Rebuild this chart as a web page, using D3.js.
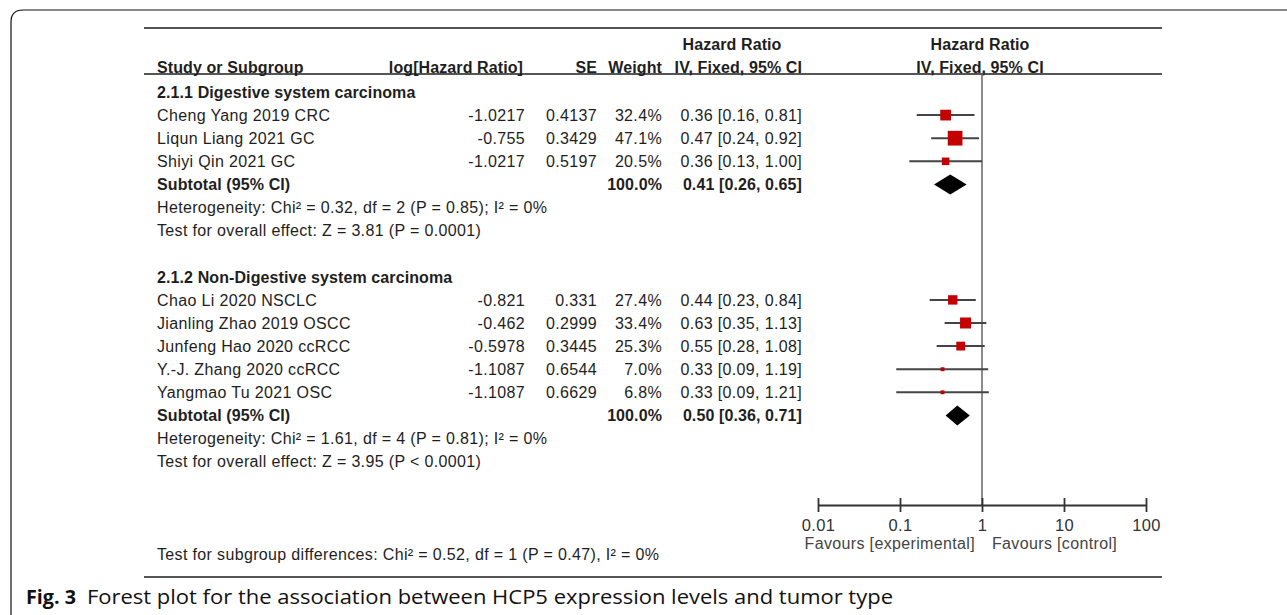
<!DOCTYPE html>
<html>
<head>
<meta charset="utf-8">
<script src="https://cdn.jsdelivr.net/npm/d3@7"></script>
<style>
  html, body { margin: 0; padding: 0; background: #fff; }
  svg { display: block; }
  .tbl { font-family: "Liberation Sans", Arial, sans-serif; font-size: 16px; letter-spacing: 0.35px; fill: #1e1e1e; }
  .b { font-weight: bold; letter-spacing: 0.1px; }
</style>
</head>
<body>
<svg id="chart" width="1287" height="615"></svg>
<script>
// Study-level data
const studies = ["Cheng Yang 2019 CRC", "Liqun Liang 2021 GC", "Shiyi Qin 2021 GC",
                 "Chao Li 2020 NSCLC", "Jianling Zhao 2019 OSCC", "Junfeng Hao 2020 ccRCC",
                 "Y.-J. Zhang 2020 ccRCC", "Yangmao Tu 2021 OSC"];
const studyGroup = [0, 0, 0, 1, 1, 1, 1, 1];
const logHR  = ["-1.0217", "-0.755", "-1.0217", "-0.821", "-0.462", "-0.5978", "-1.1087", "-1.1087"];
const seVals = ["0.4137", "0.3429", "0.5197", "0.331", "0.2999", "0.3445", "0.6544", "0.6629"];
const weights = [32.4, 47.1, 20.5, 27.4, 33.4, 25.3, 7.0, 6.8];
const hr    = [0.36, 0.47, 0.36, 0.44, 0.63, 0.55, 0.33, 0.33];
const lower = [0.16, 0.24, 0.13, 0.23, 0.35, 0.28, 0.09, 0.09];
const upper = [0.81, 0.92, 1.00, 0.84, 1.13, 1.08, 1.19, 1.21];

// Subgroup summaries
const groupTitles = ["2.1.1 Digestive system carcinoma", "2.1.2 Non-Digestive system carcinoma"];
const subHR    = [0.41, 0.50];
const subLower = [0.26, 0.36];
const subUpper = [0.65, 0.71];
const heterogeneity = ["Heterogeneity: Chi\u00B2 = 0.32, df = 2 (P = 0.85); I\u00B2 = 0%",
                       "Heterogeneity: Chi\u00B2 = 1.61, df = 4 (P = 0.81); I\u00B2 = 0%"];
const overallEffect = ["Test for overall effect: Z = 3.81 (P = 0.0001)",
                       "Test for overall effect: Z = 3.95 (P < 0.0001)"];
const subgroupDiff = "Test for subgroup differences: Chi\u00B2 = 0.52, df = 1 (P = 0.47), I\u00B2 = 0%";

// Axis
const axisTicks = [0.01, 0.1, 1, 10, 100];
const axisLabels = ["0.01", "0.1", "1", "10", "100"];
const favours = ["Favours [experimental]", "Favours [control]"];

const svg = d3.select("#chart");
const fmt2 = d3.format(".2f");
const ciText = (h, l, u) => `${fmt2(h)} [${fmt2(l)}, ${fmt2(u)}]`;

// Scales
const x = d3.scaleLog().domain([0.01, 100]).range([818, 1146]);
const row = d3.scaleLinear().domain([0, 20]).range([92, 554]);
const boxSize = d3.scaleLinear().domain([0, 47.1]).range([2, 14.7]);

// Outer frame with rounded top-left corner
svg.append("path")
  .attr("d", "M11,615 L11,22 Q11,10 23,10 L1287,10")
  .attr("fill", "none").attr("stroke", "#111").attr("stroke-width", 1.2);

// Table rules
const ruleX = [144, 1162];
[28, 74, 577].forEach(yy => {
  svg.append("line").attr("x1", ruleX[0]).attr("x2", ruleX[1])
    .attr("y1", yy).attr("y2", yy)
    .attr("stroke", "#555").attr("stroke-width", 2);
});

const tbl = svg.append("g").attr("class", "tbl");
function txt(s, xx, yy, anchor, bold) {
  return tbl.append("text").attr("x", xx).attr("y", yy)
    .attr("dy", "0.36em").attr("text-anchor", anchor || "start")
    .attr("class", bold ? "b" : null).text(s);
}

// Column positions
const colName = 157, colLog = 525, colSE = 597, colW = 662, colCI = 802, colPlot = 980;

// Header
txt("Hazard Ratio", 732, 44, "middle", true);
txt("Hazard Ratio", colPlot, 44, "middle", true);
txt("Study or Subgroup", colName, 67, "start", true);
txt("log[Hazard Ratio]", colLog - 2, 67, "end", true);
txt("SE", colSE, 67, "end", true);
txt("Weight", colW, 67, "end", true);
txt("IV, Fixed, 95% CI", colCI, 67, "end", true);
txt("IV, Fixed, 95% CI", colPlot, 67, "middle", true);

// Null-effect line
svg.append("line").attr("x1", x(1)).attr("x2", x(1)).attr("y1", 74).attr("y2", 505)
  .attr("stroke", "#666").attr("stroke-width", 1.5);

// Row layout per subgroup
const groupStart = [0, 8];
const plot = svg.append("g");
groupTitles.forEach((title, g) => {
  const r0 = groupStart[g];
  txt(title, colName, row(r0), "start", true);
  const idx = studies.map((s, i) => i).filter(i => studyGroup[i] === g);
  idx.forEach((i, k) => {
    const yy = row(r0 + 1 + k);
    txt(studies[i], colName, yy);
    txt(logHR[i], colLog, yy, "end");
    txt(seVals[i], colSE, yy, "end");
    txt(weights[i].toFixed(1) + "%", colW, yy, "end");
    txt(ciText(hr[i], lower[i], upper[i]), colCI, yy, "end");
    plot.append("line").attr("x1", x(lower[i])).attr("x2", x(upper[i]))
      .attr("y1", yy).attr("y2", yy).attr("stroke", "#444").attr("stroke-width", 2);
    const s = boxSize(weights[i]);
    plot.append("rect").attr("x", x(hr[i]) - s / 2).attr("y", yy - s / 2)
      .attr("width", s).attr("height", s).attr("fill", "#c40000");
  });
  const rs = r0 + 1 + idx.length;
  const ys = row(rs);
  txt("Subtotal (95% CI)", colName, ys, "start", true);
  txt("100.0%", colW, ys, "end", true);
  txt(ciText(subHR[g], subLower[g], subUpper[g]), colCI, ys, "end", true);
  plot.append("path")
    .attr("d", `M${x(subLower[g])},${ys} L${x(subHR[g])},${ys - 10} L${x(subUpper[g])},${ys} L${x(subHR[g])},${ys + 10} Z`)
    .attr("fill", "#000");
  txt(heterogeneity[g], colName, row(rs + 1));
  txt(overallEffect[g], colName, row(rs + 2));
});
txt(subgroupDiff, colName, row(20));

// Hazard ratio axis
const axis = d3.axisBottom(x).tickValues(axisTicks)
  .tickFormat((d, i) => axisLabels[i]).tickSizeInner(7).tickSizeOuter(0).tickPadding(7);
const ax = svg.append("g").attr("transform", "translate(0,505)").call(axis);
ax.select(".domain").attr("stroke", "#333").attr("stroke-width", 1.8);
ax.selectAll(".tick line").attr("y1", -7).attr("y2", 7).attr("stroke", "#333").attr("stroke-width", 1.8);
ax.selectAll(".tick text")
  .attr("font-family", "Liberation Sans, Arial, sans-serif")
  .attr("font-size", 16.5).attr("letter-spacing", "0.4px").attr("fill", "#333");

svg.append("text").attr("class", "tbl").attr("x", 975).attr("y", 543).attr("dy", "0.36em")
  .attr("text-anchor", "end").style("fill", "#444").text(favours[0]);
svg.append("text").attr("class", "tbl").attr("x", 992).attr("y", 543).attr("dy", "0.36em")
  .attr("text-anchor", "start").style("fill", "#444").text(favours[1]);

// Figure caption
const cap = svg.append("text").attr("x", 26).attr("y", 604)
  .attr("font-family", "Open Sans, Noto Sans, sans-serif").attr("font-size", 19.5).attr("fill", "#111");
cap.append("tspan").attr("font-weight", "bold").attr("textLength", 50).attr("lengthAdjust", "spacingAndGlyphs").text("Fig. 3");
cap.append("tspan").attr("x", 87).attr("textLength", 806).attr("lengthAdjust", "spacingAndGlyphs")
  .text("Forest plot for the association between HCP5 expression levels and tumor type");
</script>
</body>
</html>
